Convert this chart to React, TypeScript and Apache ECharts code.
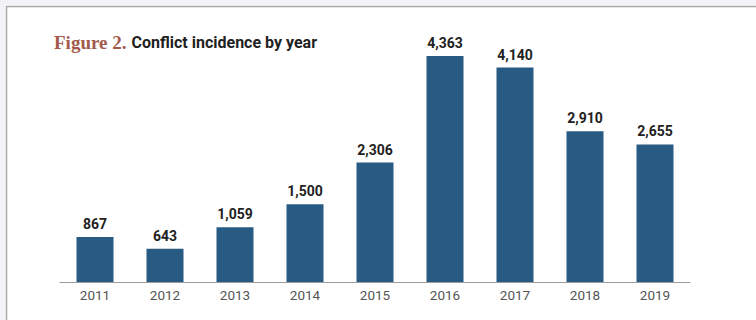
import React, { useEffect, useRef } from "react";
import * as echarts from "echarts";

const years = ["2011", "2012", "2013", "2014", "2015", "2016", "2017", "2018", "2019"];
const incidents = [867, 643, 1059, 1500, 2306, 4363, 4140, 2910, 2655];

export default function App() {
  const ref = useRef<HTMLDivElement>(null);
  useEffect(() => {
    document.body.style.margin = "0";
    const chart = echarts.init(ref.current!, null, { renderer: "svg" });
    chart.setOption({
      animation: false,
      backgroundColor: "#ffffff",
      graphic: [
        { type: "rect", shape: { x: 0, y: 0, width: 756, height: 5 }, style: { fill: "#f3f3f7" }, silent: true },
        { type: "rect", shape: { x: 0, y: 0, width: 5, height: 320 }, style: { fill: "#f3f3f7" }, silent: true },
        { type: "line", shape: { x1: 6, y1: 6.5, x2: 756, y2: 6.5 }, style: { stroke: "#a8a8a8", lineWidth: 1.5 }, silent: true },
        { type: "line", shape: { x1: 6.5, y1: 6, x2: 6.5, y2: 320 }, style: { stroke: "#a8a8a8", lineWidth: 1.5 }, silent: true },
      ],
      title: {
        left: 49,
        top: 28,
        text: "{a|Figure 2.} {b|Conflict incidence by year}",
        textStyle: {
          rich: {
            a: { fontFamily: "Liberation Serif, serif", fontSize: 19, fontWeight: "bold", color: "#a3594b" },
            b: { fontFamily: "Roboto, sans-serif", fontSize: 16, fontWeight: "bold", color: "#1f1f1f" },
          },
        },
      },
      grid: { left: 60, right: 66, top: 23, bottom: 38, containLabel: false },
      xAxis: {
        type: "category",
        data: years,
        axisLine: { lineStyle: { color: "#9a9a9a", width: 1 } },
        axisTick: { show: false },
        axisLabel: { color: "#555", fontFamily: "Roboto, sans-serif", fontSize: 13.5, margin: 6 },
      },
      yAxis: {
        type: "value",
        min: 0,
        max: 5000,
        show: false,
        splitLine: { show: false },
      },
      series: [
        {
          type: "bar",
          data: incidents,
          barWidth: 37,
          itemStyle: { color: "#285b84" },
          label: {
            show: true,
            position: "top",
            distance: 6,
            color: "#222",
            fontFamily: "Roboto, sans-serif",
            fontWeight: "bold",
            fontSize: 14,
            formatter: (p: any) => Number(p.value).toLocaleString("en-US"),
          },
        },
      ],
    });
    return () => chart.dispose();
  }, []);
  return <div ref={ref} style={{ width: 756, height: 320 }} />;
}
